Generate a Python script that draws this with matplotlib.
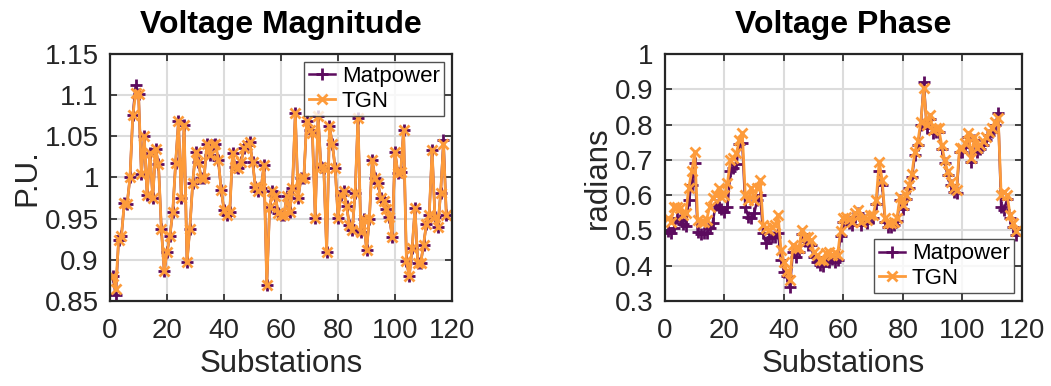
import matplotlib.pyplot as plt
from matplotlib.ticker import FormatStrFormatter
import numpy as np

plt.rcParams['font.family'] = ['Liberation Sans', 'DejaVu Sans']

substations = np.arange(1, 119)

# voltage magnitude (p.u.)
mag_matpower = [0.880, 0.857, 0.924, 0.929, 0.969, 0.968, 1.000, 1.076, 1.112, 1.101,
                1.004, 1.050, 0.979, 1.030, 0.975, 1.035, 1.016, 0.938, 0.886, 0.909,
                0.929, 0.958, 1.017, 1.068, 0.975, 1.064, 0.897, 0.938, 0.993, 1.031,
                1.019, 0.999, 0.999, 1.041, 1.027, 1.040, 1.041, 1.021, 0.985, 0.960,
                0.954, 0.958, 1.030, 1.013, 1.011, 1.019, 1.036, 1.039, 1.043, 1.019,
                0.989, 0.983, 0.987, 1.015, 0.869, 0.964, 0.983, 0.977, 0.957, 0.954,
                0.954, 0.977, 0.958, 0.987, 1.078, 0.975, 0.999, 0.999, 1.069, 1.058,
                1.054, 0.951, 1.075, 1.013, 1.011, 0.910, 1.062, 1.041, 1.011, 0.951,
                0.979, 0.983, 0.965, 0.942, 0.936, 0.981, 1.072, 0.934, 0.950, 0.912,
                0.950, 1.021, 0.999, 0.993, 0.975, 0.971, 0.962, 0.952, 0.928, 1.031,
                1.005, 1.007, 1.058, 0.898, 0.880, 0.914, 0.963, 0.896, 0.896, 0.918,
                0.944, 0.954, 1.033, 0.952, 0.940, 0.981, 1.045, 0.954]
mag_tgn = [0.880, 0.865, 0.924, 0.929, 0.969, 0.968, 1.000, 1.076, 1.102, 1.101,
           1.004, 1.050, 0.979, 1.030, 0.975, 1.035, 1.016, 0.938, 0.886, 0.909,
           0.929, 0.958, 1.017, 1.068, 0.975, 1.064, 0.897, 0.938, 0.993, 1.031,
           1.019, 0.999, 0.999, 1.041, 1.027, 1.040, 1.041, 1.021, 0.985, 0.960,
           0.954, 0.958, 1.030, 1.013, 1.011, 1.019, 1.036, 1.039, 1.043, 1.019,
           0.989, 0.983, 0.987, 1.015, 0.869, 0.964, 0.983, 0.977, 0.957, 0.954,
           0.954, 0.977, 0.958, 0.987, 1.078, 0.975, 0.999, 0.999, 1.069, 1.058,
           1.054, 0.951, 1.075, 1.013, 1.011, 0.910, 1.062, 1.041, 1.011, 0.951,
           0.979, 0.983, 0.965, 0.942, 0.936, 0.981, 1.072, 0.934, 0.950, 0.912,
           0.950, 1.021, 0.999, 0.993, 0.975, 0.971, 0.962, 0.952, 0.928, 1.031,
           1.005, 1.007, 1.058, 0.898, 0.880, 0.914, 0.963, 0.896, 0.896, 0.918,
           0.944, 0.954, 1.033, 0.952, 0.940, 0.981, 1.041, 0.954]

# voltage phase (radians)
ph_matpower = [0.497, 0.492, 0.506, 0.534, 0.530, 0.517, 0.513, 0.586, 0.629, 0.690,
               0.495, 0.489, 0.492, 0.492, 0.506, 0.520, 0.572, 0.567, 0.561, 0.553,
               0.567, 0.667, 0.676, 0.687, 0.744, 0.747, 0.567, 0.539, 0.534, 0.548,
               0.586, 0.600, 0.492, 0.463, 0.478, 0.482, 0.480, 0.492, 0.416, 0.383,
               0.370, 0.341, 0.440, 0.426, 0.440, 0.490, 0.470, 0.460, 0.460, 0.425,
               0.410, 0.402, 0.400, 0.425, 0.410, 0.420, 0.410, 0.415, 0.485, 0.525,
               0.530, 0.522, 0.515, 0.538, 0.548, 0.515, 0.529, 0.520, 0.534, 0.534,
               0.576, 0.667, 0.630, 0.524, 0.510, 0.510, 0.515, 0.526, 0.586, 0.562,
               0.590, 0.620, 0.650, 0.713, 0.742, 0.798, 0.920, 0.789, 0.817, 0.775,
               0.779, 0.779, 0.732, 0.690, 0.657, 0.628, 0.609, 0.605, 0.723, 0.723,
               0.737, 0.765, 0.694, 0.756, 0.723, 0.732, 0.742, 0.756, 0.770, 0.780,
               0.798, 0.832, 0.567, 0.558, 0.590, 0.535, 0.510, 0.487]
ph_tgn = [0.534, 0.525, 0.565, 0.567, 0.563, 0.544, 0.548, 0.621, 0.667, 0.721,
          0.530, 0.525, 0.525, 0.530, 0.567, 0.593, 0.600, 0.621, 0.596, 0.600,
          0.633, 0.700, 0.704, 0.718, 0.756, 0.775, 0.600, 0.586, 0.619, 0.586,
          0.619, 0.643, 0.515, 0.506, 0.501, 0.511, 0.515, 0.544, 0.445, 0.410,
          0.385, 0.360, 0.459, 0.449, 0.449, 0.501, 0.482, 0.482, 0.473, 0.440,
          0.430, 0.416, 0.416, 0.435, 0.440, 0.430, 0.435, 0.430, 0.497, 0.534,
          0.539, 0.532, 0.525, 0.548, 0.558, 0.525, 0.539, 0.530, 0.544, 0.544,
          0.586, 0.695, 0.643, 0.534, 0.520, 0.520, 0.525, 0.536, 0.596, 0.572,
          0.600, 0.630, 0.660, 0.723, 0.752, 0.808, 0.903, 0.799, 0.827, 0.785,
          0.789, 0.789, 0.742, 0.700, 0.667, 0.638, 0.619, 0.615, 0.733, 0.733,
          0.747, 0.775, 0.704, 0.766, 0.733, 0.742, 0.752, 0.766, 0.780, 0.790,
          0.808, 0.818, 0.600, 0.610, 0.600, 0.545, 0.520, 0.497]

purple = '#5c0b5e'
orange = '#fd9b3b'
dark = '#262626'

fig = plt.figure(figsize=(10.51, 3.86), dpi=100)
ax1 = fig.add_axes([0.1047, 0.2202, 0.3254, 0.640])
ax2 = fig.add_axes([0.6327, 0.2202, 0.3397, 0.640])


def style(ax, title, ylabel, ylim, yticks):
    ax.set_xlim(0, 120)
    ax.set_ylim(*ylim)
    ax.set_xticks(range(0, 121, 20))
    ax.set_yticks(yticks)
    ax.yaxis.set_major_formatter(FormatStrFormatter('%g'))
    ax.grid(True, color='#dcdcdc', linewidth=1.5)
    ax.set_axisbelow(True)
    ax.tick_params(direction='in', length=5, width=1.2, colors=dark,
                   labelsize=20, top=True, right=True, pad=8)
    ax.tick_params(axis='x', pad=12)
    for s in ax.spines.values():
        s.set_color(dark)
        s.set_linewidth(1.6)
    ax.set_title(title, fontsize=23, fontweight='bold', pad=15)
    ax.set_xlabel('Substations', fontsize=22.5, color=dark, labelpad=4)
    ax.set_ylabel(ylabel, fontsize=22.5, color=dark, labelpad=2)


for ax, mp, tg in [(ax1, mag_matpower, mag_tgn), (ax2, ph_matpower, ph_tgn)]:
    ax.plot(substations, mp, color=purple, marker='+', markersize=8, mew=2,
            linewidth=1.8, label='Matpower')
    ax.plot(substations, tg, color=orange, marker='x', markersize=7, mew=2,
            linewidth=2.0, label='TGN')

style(ax1, 'Voltage Magnitude', 'P.U.', (0.85, 1.15),
      [0.85, 0.9, 0.95, 1.0, 1.05, 1.1, 1.15])
style(ax2, 'Voltage Phase', 'radians', (0.3, 1.0),
      [0.3, 0.4, 0.5, 0.6, 0.7, 0.8, 0.9, 1.0])

for ax, loc in [(ax1, 'upper right'), (ax2, 'lower right')]:
    leg = ax.legend(loc=loc, fontsize=16, frameon=True, fancybox=False,
                    handlelength=1.2, handletextpad=0.3, borderpad=0.2,
                    labelspacing=0.15, borderaxespad=0.35)
    leg.get_frame().set_edgecolor(dark)
    leg.get_frame().set_linewidth(1.0)

fig.savefig('out.png', dpi=100)
